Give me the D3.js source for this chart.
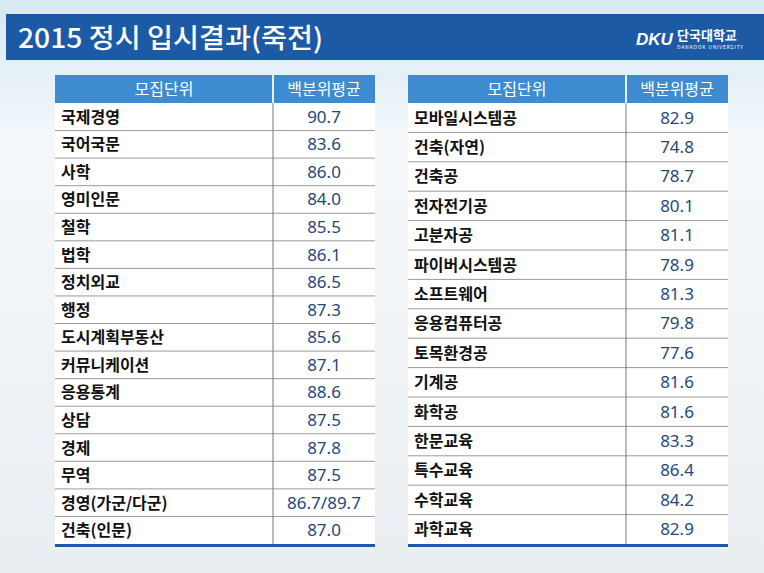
<!DOCTYPE html>
<html><head><meta charset="utf-8">
<script src="https://cdn.jsdelivr.net/npm/d3@7"></script>
<style>body{margin:0;overflow:hidden}</style>
</head><body>
<svg id="slide" width="764" height="573"></svg>
<script>
const headers = ["모집단위", "백분위평균"];
const leftUnits = ["국제경영","국어국문","사학","영미인문","철학","법학","정치외교","행정","도시계획부동산","커뮤니케이션","응용통계","상담","경제","무역","경영(가군/다군)","건축(인문)"];
const leftScores = ["90.7","83.6","86.0","84.0","85.5","86.1","86.5","87.3","85.6","87.1","88.6","87.5","87.8","87.5","86.7/89.7","87.0"];
const rightUnits = ["모바일시스템공","건축(자연)","건축공","전자전기공","고분자공","파이버시스템공","소프트웨어","응용컴퓨터공","토목환경공","기계공","화학공","한문교육","특수교육","수학교육","과학교육"];
const rightScores = ["82.9","74.8","78.7","80.1","81.1","78.9","81.3","79.8","77.6","81.6","81.6","83.3","86.4","84.2","82.9"];

const svg = d3.select("#slide");
const font = "'Noto Sans CJK KR', sans-serif";

// 배경
const grad = svg.append("defs").append("linearGradient").attr("id", "bg")
  .attr("x1", 0).attr("y1", 0).attr("x2", 0).attr("y2", 1);
grad.append("stop").attr("offset", 0).attr("stop-color", "#d6e8f3");
grad.append("stop").attr("offset", 0.25).attr("stop-color", "#f4f8fb");
grad.append("stop").attr("offset", 1).attr("stop-color", "#e9eef2");
svg.append("rect").attr("width", 764).attr("height", 573).attr("fill", "url(#bg)");

// 제목 바
svg.append("rect").attr("x", 6).attr("y", 14).attr("width", 758).attr("height", 46).attr("fill", "#1c5aa6");
svg.append("text").attr("x", 18).attr("y", 48).attr("fill", "#fff")
  .style("font-family", font).style("font-size", "27px").style("font-weight", "500")
  .attr("textLength", 305).attr("lengthAdjust", "spacingAndGlyphs").text("2015 정시 입시결과(죽전)");
svg.append("text").attr("x", 636).attr("y", 45).attr("fill", "#fff")
  .style("font-family", "'Liberation Sans', sans-serif").style("font-size", "17px")
  .style("font-weight", "bold").style("font-style", "italic").text("DKU");
svg.append("text").attr("x", 677).attr("y", 40).attr("fill", "#fff")
  .style("font-family", font).style("font-size", "13px").style("font-weight", "bold").text("단국대학교");
svg.append("text").attr("x", 677).attr("y", 49).attr("fill", "#fff")
  .style("font-family", font).style("font-size", "5px").attr("textLength", 66).text("DANKOOK UNIVERSITY");

function drawTable(x0, units, scores) {
  const width = 320, split = 218;
  const y = d3.scaleBand().domain(d3.range(units.length)).range([103, 544]);
  const g = svg.append("g").attr("transform", `translate(${x0},0)`);

  g.append("rect").attr("x", 0).attr("y", 75).attr("width", split - 1).attr("height", 28).attr("fill", "#3d8bd0");
  g.append("rect").attr("x", split + 1).attr("y", 75).attr("width", width - split - 1).attr("height", 28).attr("fill", "#3d8bd0");
  g.selectAll(".hd").data(headers).enter().append("text")
    .attr("x", (d, i) => i ? (split + width) / 2 : split / 2).attr("y", 95)
    .attr("text-anchor", "middle").attr("fill", "#fff")
    .style("font-family", font).style("font-size", "16px").text(d => d);

  g.append("rect").attr("x", 0).attr("y", 103).attr("width", width).attr("height", 544 - 103).attr("fill", "#fff");

  const rows = g.selectAll(".row").data(units).enter().append("g")
    .attr("transform", (d, i) => `translate(0,${y(i)})`);
  rows.filter((d, i) => i > 0).append("line").attr("x1", 0).attr("x2", width)
    .attr("stroke", "#9a9a9a").attr("stroke-width", 1);
  rows.append("text").attr("x", 6).attr("y", y.bandwidth() / 2 + 6)
    .style("font-family", font).style("font-size", "16px").style("font-weight", "bold")
    .attr("fill", "#111").text(d => d);
  rows.append("text").attr("x", (split + width) / 2).attr("y", y.bandwidth() / 2 + 6)
    .attr("text-anchor", "middle").style("font-family", "'Noto Sans', sans-serif").style("font-size", "17px")
    .attr("fill", "#24487a").text((d, i) => scores[i]);

  g.append("line").attr("x1", split).attr("x2", split).attr("y1", 103).attr("y2", 544)
    .attr("stroke", "#6a7c90");
  g.append("rect").attr("x", 0).attr("y", 544).attr("width", width).attr("height", 3).attr("fill", "#1c5aa6");
}

drawTable(55, leftUnits, leftScores);
drawTable(408, rightUnits, rightScores);
</script>
</body></html>
